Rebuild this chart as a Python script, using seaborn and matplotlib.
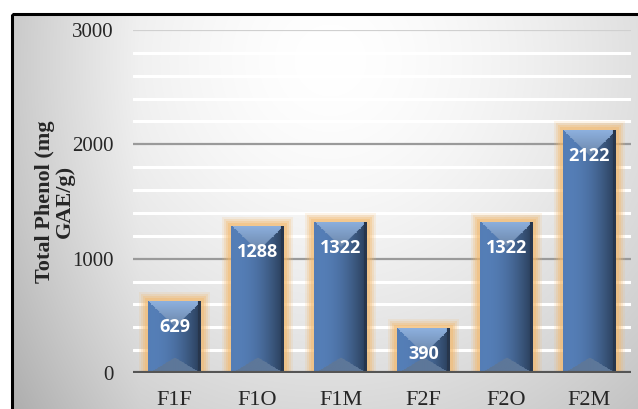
import numpy as np
import matplotlib
matplotlib.use("Agg")
import matplotlib.pyplot as plt
from matplotlib.patches import Rectangle
from matplotlib.colors import to_rgb
import seaborn as sns

categories = ["F1F", "F1O", "F1M", "F2F", "F2O", "F2M"]
phenol = [629, 1288, 1322, 390, 1322, 2122]
y_ticks = [0, 1000, 2000, 3000]

sns.set_theme(style="white")
plt.rcParams["font.family"] = ["Liberation Serif", "DejaVu Serif"]

W, H, DPI = 638, 409, 100
fig = plt.figure(figsize=(W / DPI, H / DPI), dpi=DPI)
fig.patch.set_facecolor("white")

# soft grey background panel inside the frame
bg = fig.add_axes([0, 0, 1, 1], zorder=-5)
bg.set_axis_off()
yy, xx = np.mgrid[0:H, 0:W]
dx = (xx - 330) / 420.0
dy = (yy - 60) / 420.0
f = np.clip(np.sqrt(dx ** 2 + dy ** 2), 0, 1.2)
shade = 1.0 - 0.20 * f ** 1.6
left = np.clip((140 - xx) / 130.0, 0, 1)
shade -= 0.08 * left
img = np.dstack([shade, shade, shade])
img[:14, :, :] = 1.0
img[:, :12, :] = 1.0
bg.imshow(np.clip(img, 0, 1), extent=[0, W, H, 0], aspect="auto")
bg.set_xlim(0, W)
bg.set_ylim(H, 0)
bg.add_patch(Rectangle((12, 14), W + 20, H + 20, fill=False,
                       edgecolor="black", linewidth=2.2))

ax = fig.add_axes([133 / W, 1 - 373 / H, (631 - 133) / W, (373 - 30) / H])
ax.set_facecolor("none")

sns.barplot(x=categories, y=phenol, color="#4a6fa3", width=0.63,
            saturation=1, ax=ax, zorder=3)

ax.set_ylim(0, 3000)
ax.set_xlim(-0.5, len(categories) - 0.5)

# gridlines: white minor lines, grey major lines
for v in range(200, 3000, 200):
    if v % 1000:
        ax.axhline(v, color="white", lw=2.2, zorder=1)
for v in y_ticks[1:]:
    ax.axhline(v, color="#9a9a9a" if v < 3000 else "#d0d0d0", lw=1.6, zorder=1)
ax.axhline(0, color="#555555", lw=3, zorder=6)

px_x = (631 - 133) / len(categories)
px_y = (373 - 30) / 3000.0

base = np.array(to_rgb("#4e74a8"))
for patch, val in zip(ax.patches, phenol):
    x0 = patch.get_x()
    w = patch.get_width()
    h = patch.get_height()
    # orange halo
    for k, a in zip([9, 7, 5, 3], [0.15, 0.22, 0.3, 0.4]):
        gx = k / px_x
        gy = k / px_y
        ax.add_patch(Rectangle((x0 - gx, 0), w + 2 * gx, h + gy,
                               facecolor="#f4b86a", edgecolor="none",
                               alpha=a, zorder=2))
    # bevelled bar shading
    bw = int(round(w * px_x))
    bh = max(int(round(h * px_y)), 2)
    u = np.linspace(0, 1, bw)[None, :]
    v = np.arange(bh)[:, None].astype(float)
    hx = np.arange(bw)[None, :].astype(float)
    horiz = 1.08 - 0.55 * u ** 1.5 + 0.08 * np.sin(np.pi * u)
    col = base[None, None, :] * horiz[..., None] * np.ones((bh, 1, 1))
    depth = 26.0
    tri = v < depth * (1 - np.abs(hx - bw / 2) / (bw / 2))
    topcol = np.array(to_rgb("#8db0de"))
    fade = np.clip(1 - v / depth, 0, 1)[..., None]
    col = np.where(tri[..., None], topcol * (0.75 + 0.25 * fade), col)
    bot = (bh - v) < 16 * (1 - np.abs(hx - bw / 2) / (bw / 2))
    botcol = np.array(to_rgb("#5d7799"))
    col = np.where(bot[..., None], botcol, col)
    edge = (hx > bw - 4)
    col = np.where(edge[..., None], np.array(to_rgb("#27364d")), col)
    im = ax.imshow(np.clip(col, 0, 1), extent=[x0, x0 + w, 0, h],
                   aspect="auto", zorder=4, interpolation="bilinear")
    im.set_clip_path(patch)
    patch.set_facecolor("none")
    patch.set_edgecolor("none")
    ax.text(x0 + w / 2, h - 26 / px_y, f"{val}", ha="center", va="center",
            color="white", fontsize=13, fontweight="bold",
            family=["Open Sans", "DejaVu Sans"], zorder=7)

ax.set_ylim(0, 3000)
ax.set_xlim(-0.5, len(categories) - 0.5)
ax.set_yticks(y_ticks)
ax.set_yticklabels([str(t) for t in y_ticks], fontsize=15)
ax.tick_params(axis="y", length=0, pad=14)
ax.tick_params(axis="x", length=0, pad=13, labelsize=16)
for s in ax.spines.values():
    s.set_visible(False)
ax.set_ylabel("Total Phenol (mg\nGAE/g)", fontsize=16, fontweight="bold",
              labelpad=-2, linespacing=1.0)

fig.savefig("out.png", dpi=DPI)
